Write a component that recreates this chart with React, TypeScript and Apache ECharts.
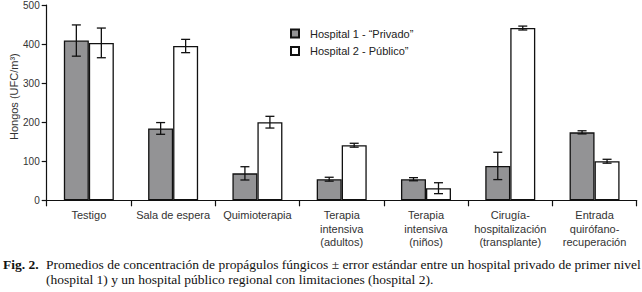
import React, { useEffect, useRef } from "react";
import * as echarts from "echarts";

const categories = [
  "Testigo",
  "Sala de espera",
  "Quimioterapia",
  "Terapia\nintensiva\n(adultos)",
  "Terapia\nintensiva\n(niños)",
  "Cirugía-\nhospitalización\n(transplante)",
  "Entrada\nquirófano-\nrecuperación",
];
const seriesNames = ["Hospital 1 - “Privado”", "Hospital 2 - Público”"];
const hospital1 = [409, 184, 69, 54, 54, 88, 174];
const hospital1Err = [40, 15, 17, 5, 4, 35, 4];
const hospital2 = [403, 395, 200, 141, 31, 441, 100];
const hospital2Err = [38, 17, 15, 5, 14, 5, 5];
const yTicks = [0, 100, 200, 300, 400, 500];
const caption1 = "Promedios de concentración de propágulos fúngicos ± error estándar entre un hospital privado de primer nivel";
const caption2 = "(hospital 1) y un hospital público regional con limitaciones (hospital 2).";

const BAR_W = 25;

function errSeries(values: number[], errs: number[], side: number) {
  return {
    type: "custom",
    silent: true,
    z: 10,
    data: values.map((v, i) => [i, v, errs[i]]),
    renderItem: (params: any, api: any) => {
      const i = api.value(0);
      const v = api.value(1);
      const e = api.value(2);
      const top = api.coord([i, v + e]);
      const bot = api.coord([i, v - e]);
      const x = top[0] + side * (BAR_W / 2);
      const cap = 4.5;
      const style = { stroke: "#111", lineWidth: 1.3 };
      return {
        type: "group",
        children: [
          { type: "line", shape: { x1: x, y1: top[1], x2: x, y2: bot[1] }, style },
          { type: "line", shape: { x1: x - cap, y1: top[1], x2: x + cap, y2: top[1] }, style },
          { type: "line", shape: { x1: x - cap, y1: bot[1], x2: x + cap, y2: bot[1] }, style },
        ],
      };
    },
  };
}

export default function App() {
  const ref = useRef<HTMLDivElement>(null);
  useEffect(() => {
    const chart = echarts.init(ref.current!, null, { renderer: "svg" });
    const font = "'Liberation Sans', Arial, sans-serif";
    const serif = "'Liberation Serif', 'Times New Roman', serif";
    chart.setOption({
      animation: false,
      backgroundColor: "#fff",
      textStyle: { fontFamily: font },
      grid: {
        left: 46.7,
        right: 5.3,
        top: 5,
        bottom: 91.7,
        containLabel: false,
        outerBoundsMode: "none",
      },
      legend: {
        orient: "vertical",
        left: 285,
        top: 23,
        itemWidth: 8,
        itemHeight: 8,
        itemGap: 6.5,
        icon: "rect",
        formatter: "{a|{name}}",
        textStyle: {
          fontSize: 11,
          color: "#222",
          fontFamily: font,
          rich: { a: { fontSize: 11, color: "#222", fontFamily: font, padding: [0, 0, 0, 6] } },
        },
        data: seriesNames,
      },
      xAxis: {
        type: "category",
        data: categories,
        axisLine: { lineStyle: { color: "#111", width: 1.2 } },
        axisTick: { show: true, length: 6, lineStyle: { color: "#111", width: 1.2 } },
        axisLabel: {
          fontSize: 11,
          color: "#333",
          lineHeight: 13.5,
          margin: 8,
          interval: 0,
          fontFamily: font,
        },
      },
      yAxis: {
        type: "value",
        min: 0,
        max: 500,
        interval: 100,
        name: "Hongos (UFC/m³)",
        nameLocation: "middle",
        nameGap: 27,
        nameMoveOverlap: false,
        nameTextStyle: { fontSize: 11, color: "#333", fontFamily: font, padding: [0, 0, 0, 12] },
        axisLine: { show: true, lineStyle: { color: "#111", width: 1.2 } },
        axisTick: { show: true, length: 5, lineStyle: { color: "#111", width: 1.2 } },
        axisLabel: {
          fontSize: 10,
          color: "#333",
          margin: 7,
          fontFamily: font,
          formatter: (v: number) => (yTicks.includes(v) ? String(v) : ""),
        },
        splitLine: { show: false },
      },
      series: [
        {
          name: seriesNames[0],
          type: "bar",
          data: hospital1,
          barWidth: BAR_W,
          barGap: "0%",
          itemStyle: { color: "#939395", borderColor: "#111", borderWidth: 1.3 },
        },
        {
          name: seriesNames[1],
          type: "bar",
          data: hospital2,
          barWidth: BAR_W,
          barGap: "0%",
          itemStyle: { color: "#ffffff", borderColor: "#111", borderWidth: 1.3 },
        },
        errSeries(hospital1, hospital1Err, -1),
        errSeries(hospital2, hospital2Err, 1),
      ],
      graphic: [
        {
          type: "text",
          x: 3,
          y: 257,
          style: { text: "Fig. 2.", font: `bold 13.5px ${serif}`, fill: "#111" },
        },
        {
          type: "text",
          x: 46,
          y: 257,
          style: { text: caption1, font: `13.5px ${serif}`, fill: "#111" },
        },
        {
          type: "text",
          x: 46,
          y: 272,
          style: { text: caption2, font: `13.5px ${serif}`, fill: "#111" },
        },
      ],
    });
    return () => chart.dispose();
  }, []);
  return (
    <div
      ref={ref}
      style={{ position: "fixed", left: 0, top: 0, width: 642, height: 292 }}
    />
  );
}
